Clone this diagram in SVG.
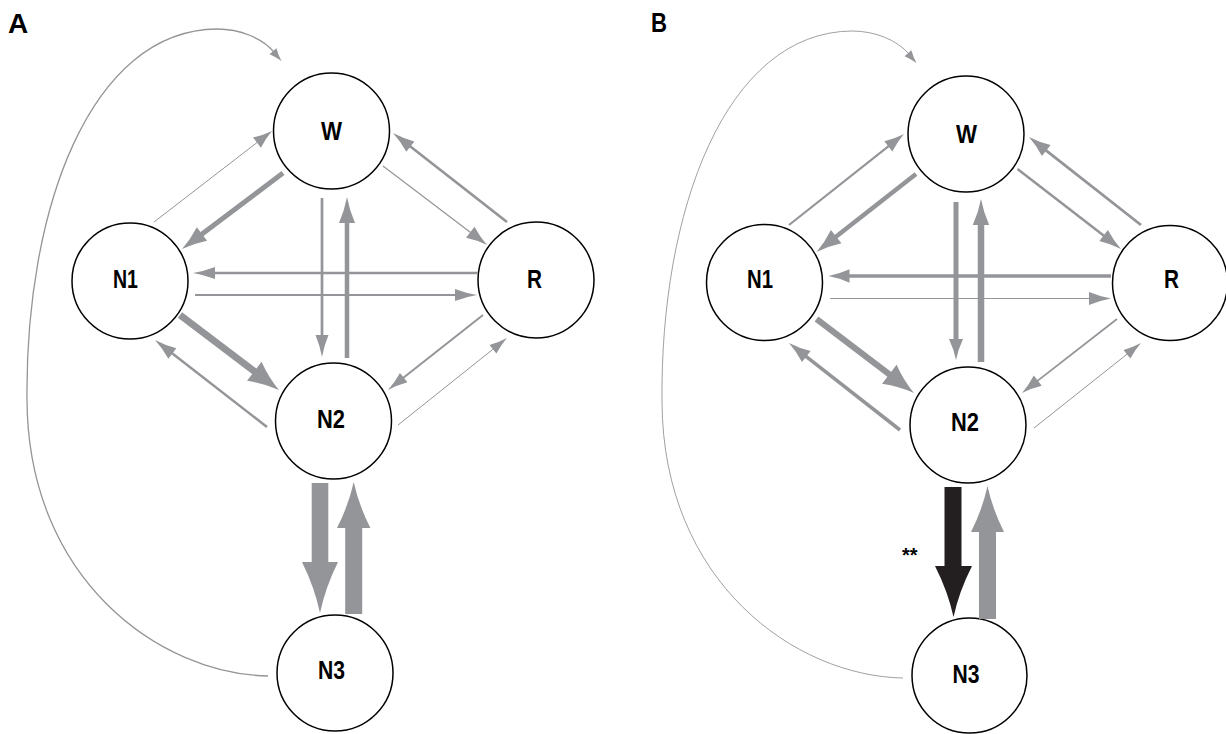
<svg xmlns="http://www.w3.org/2000/svg" xmlns:xlink="http://www.w3.org/1999/xlink" width="1226" height="734" viewBox="0 0 1226 734">
<style>
.node{fill:#fff;stroke:#000;stroke-width:1.5}
.lbl{font-family:"Liberation Sans",Arial,sans-serif;font-weight:bold;font-size:26px;fill:#000;text-anchor:middle}
.pnl{font-family:"Liberation Sans",Arial,sans-serif;font-weight:bold;font-size:28px;fill:#000}
.ln{stroke:#939598;fill:none}
.hd{fill:#939598;stroke:none}
.lnk{stroke:#231f20;fill:none}
.hdk{fill:#231f20;stroke:none}
</style>
<defs>
<path id="hd" d="M0,0 Q-0.5,-0.15 -1,-0.5 L-1,0.5 Q-0.5,0.15 0,0 Z"/>
<path id="loop" d="M268,676 C160,674 28,580 27,400 C25,210 90,30 217,29 C240,29 262,38 274,52"/>
</defs>
<rect width="1226" height="734" fill="#fff"/>
<text class="pnl" x="8" y="33">A</text>
<text class="pnl" x="651" y="32" textLength="16" lengthAdjust="spacingAndGlyphs">B</text>

<g id="nodes-A">
<g id="A-W"><circle class="node" cx="331.5" cy="131" r="58"/><text class="lbl" x="331.5" y="140" textLength="21" lengthAdjust="spacingAndGlyphs">W</text></g>
<g id="A-N1"><circle class="node" cx="130" cy="281" r="58"/><text class="lbl" x="125.5" y="288" textLength="25" lengthAdjust="spacingAndGlyphs">N1</text></g>
<g id="A-N2"><circle class="node" cx="333.5" cy="421" r="58"/><text class="lbl" x="331" y="428" textLength="28" lengthAdjust="spacingAndGlyphs">N2</text></g>
<g id="A-N3"><circle class="node" cx="335" cy="673" r="58"/><text class="lbl" x="331.5" y="679" textLength="27" lengthAdjust="spacingAndGlyphs">N3</text></g>
<g id="A-R"><circle class="node" cx="536" cy="280" r="58"/><text class="lbl" x="534.5" y="288" textLength="15" lengthAdjust="spacingAndGlyphs">R</text></g>
</g>

<g id="nodes-B">
<g id="B-W"><circle class="node" cx="966" cy="134" r="58"/><text class="lbl" x="966.5" y="143" textLength="21" lengthAdjust="spacingAndGlyphs">W</text></g>
<g id="B-N1"><circle class="node" cx="764.5" cy="282.5" r="58"/><text class="lbl" x="760" y="288" textLength="26" lengthAdjust="spacingAndGlyphs">N1</text></g>
<g id="B-N2"><circle class="node" cx="968" cy="425" r="58"/><text class="lbl" x="965" y="431" textLength="28" lengthAdjust="spacingAndGlyphs">N2</text></g>
<g id="B-N3"><circle class="node" cx="969.5" cy="675.5" r="57.5"/><text class="lbl" x="966" y="683" textLength="27" lengthAdjust="spacingAndGlyphs">N3</text></g>
<g id="B-R"><circle class="node" cx="1170" cy="283" r="57.5"/><text class="lbl" x="1171.5" y="288" textLength="15" lengthAdjust="spacingAndGlyphs">R</text></g>
</g>

<g id="connectors-A">
<use href="#loop" class="ln" stroke-width="1.3"/>
<use href="#hd" class="hd" transform="translate(281.5,61) rotate(49) scale(13,9)"/>
<line class="ln" x1="283" y1="173" x2="200.4" y2="235.2" stroke-width="5"/>
<use href="#hd" class="hd" transform="translate(182,249) rotate(143.04) scale(25,17)"/>
<line class="ln" x1="154" y1="222" x2="258.5" y2="141.4" stroke-width="1"/>
<use href="#hd" class="hd" transform="translate(272,131) rotate(-37.64) scale(19,13)"/>
<line class="ln" x1="322" y1="198" x2="322" y2="337" stroke-width="2.7"/>
<use href="#hd" class="hd" transform="translate(322,357) rotate(90) scale(22,13)"/>
<line class="ln" x1="347" y1="358" x2="347" y2="221" stroke-width="4.5"/>
<use href="#hd" class="hd" transform="translate(347,197) rotate(-90) scale(26,16)"/>
<line class="ln" x1="478" y1="273" x2="213" y2="273" stroke-width="2.7"/>
<use href="#hd" class="hd" transform="translate(193,273) rotate(180) scale(22,12)"/>
<line class="ln" x1="195" y1="295" x2="457" y2="295" stroke-width="2.2"/>
<use href="#hd" class="hd" transform="translate(477,295) scale(22,12)"/>
<line class="ln" x1="180" y1="315" x2="255.9" y2="372.5" stroke-width="7"/>
<use href="#hd" class="hd" transform="translate(279,390) rotate(37.15) scale(31,24)"/>
<line class="ln" x1="267" y1="427" x2="170.8" y2="352.3" stroke-width="2.5"/>
<use href="#hd" class="hd" transform="translate(155,340) rotate(-142.16) scale(22,13)"/>
<line class="ln" x1="383" y1="166" x2="471.9" y2="233.5" stroke-width="1.2"/>
<use href="#hd" class="hd" transform="translate(487,245) rotate(37.22) scale(21,14)"/>
<line class="ln" x1="507" y1="222" x2="408.8" y2="145.3" stroke-width="2.7"/>
<use href="#hd" class="hd" transform="translate(393,133) rotate(-142.02) scale(22,13)"/>
<line class="ln" x1="483" y1="315" x2="402.1" y2="378.8" stroke-width="2"/>
<use href="#hd" class="hd" transform="translate(388,390) rotate(141.71) scale(20,12)"/>
<line class="ln" x1="398" y1="425" x2="494.5" y2="348" stroke-width="1"/>
<use href="#hd" class="hd" transform="translate(507,338) rotate(-38.6) scale(18,11)"/>
<line class="ln" x1="320" y1="483" x2="320" y2="564" stroke-width="16.6"/>
<use href="#hd" class="hd" transform="translate(320,613) rotate(90) scale(51,36)"/>
<line class="ln" x1="353.7" y1="614" x2="353.7" y2="527" stroke-width="17"/>
<use href="#hd" class="hd" transform="translate(353.7,482) rotate(-90) scale(46,33.4)"/>
</g>

<g id="connectors-B">
<use href="#loop" class="ln" stroke-width="0.9" transform="translate(635,2)"/>
<use href="#hd" class="hd" transform="translate(916.5,63) rotate(49) scale(13,9)"/>
<line class="ln" x1="916" y1="174" x2="834.6" y2="237.8" stroke-width="4.5"/>
<use href="#hd" class="hd" transform="translate(816.5,252) rotate(141.9) scale(25,17)"/>
<line class="ln" x1="789" y1="225" x2="889.9" y2="145.2" stroke-width="2.2"/>
<use href="#hd" class="hd" transform="translate(904,134) rotate(-38.35) scale(20,13)"/>
<line class="ln" x1="956" y1="202" x2="956" y2="341" stroke-width="5"/>
<use href="#hd" class="hd" transform="translate(956,360) rotate(90) scale(21,14)"/>
<line class="ln" x1="981" y1="362" x2="981" y2="223" stroke-width="6.5"/>
<use href="#hd" class="hd" transform="translate(981,199) rotate(-90) scale(26,16.4)"/>
<line class="ln" x1="1111" y1="276" x2="848.5" y2="276" stroke-width="3.3"/>
<use href="#hd" class="hd" transform="translate(828.5,276) rotate(180) scale(21,13.4)"/>
<line class="ln" x1="830" y1="298.5" x2="1091" y2="298.5" stroke-width="1.2"/>
<use href="#hd" class="hd" transform="translate(1111,298.5) scale(22,13)"/>
<line class="ln" x1="816.5" y1="319" x2="890.9" y2="375.5" stroke-width="6"/>
<use href="#hd" class="hd" transform="translate(914,393) rotate(37.2) scale(31,24)"/>
<line class="ln" x1="900" y1="430" x2="804.7" y2="355.3" stroke-width="3.5"/>
<use href="#hd" class="hd" transform="translate(789,343) rotate(-141.9) scale(22,14)"/>
<line class="ln" x1="1017.5" y1="169" x2="1105.2" y2="236.8" stroke-width="2.5"/>
<use href="#hd" class="hd" transform="translate(1121,249) rotate(37.7) scale(22,14)"/>
<line class="ln" x1="1141" y1="225" x2="1044.7" y2="149.4" stroke-width="2.8"/>
<use href="#hd" class="hd" transform="translate(1029,137) rotate(-141.8) scale(22,14)"/>
<line class="ln" x1="1117" y1="319" x2="1036.2" y2="381.9" stroke-width="1.8"/>
<use href="#hd" class="hd" transform="translate(1022,393) rotate(142.1) scale(20,13)"/>
<line class="ln" x1="1034" y1="428" x2="1128.5" y2="353" stroke-width="1"/>
<use href="#hd" class="hd" transform="translate(1141,343) rotate(-38.47) scale(18,11)"/>
<line class="lnk" x1="953" y1="487" x2="953" y2="568" stroke-width="17"/>
<use href="#hd" class="hdk" transform="translate(953.5,617) rotate(90) scale(51,37)"/>
<line class="ln" x1="987.5" y1="619" x2="987.5" y2="531" stroke-width="17"/>
<use href="#hd" class="hd" transform="translate(987.5,486) rotate(-90) scale(46,33)"/>
<text class="pnl" x="902" y="562" style="font-size:20px">**</text>
</g>
</svg>
